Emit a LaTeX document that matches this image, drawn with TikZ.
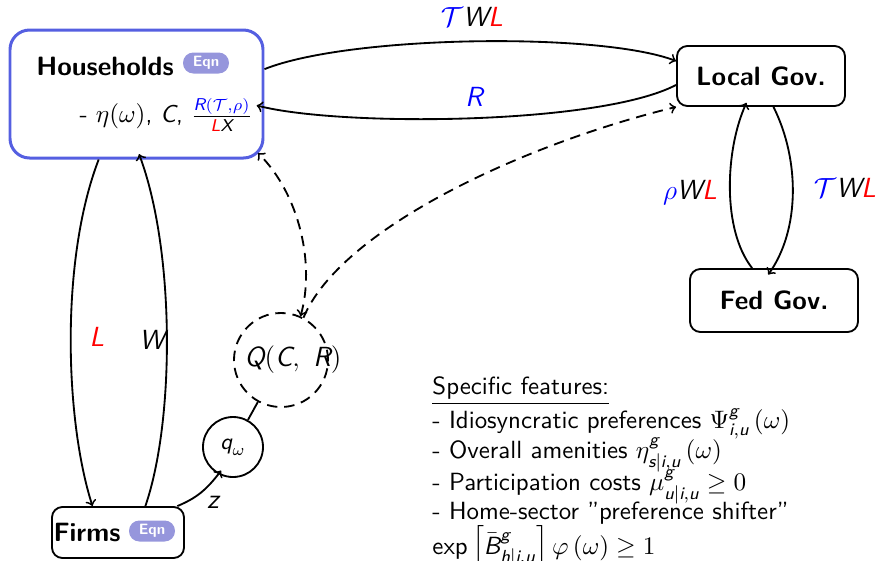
\documentclass[tikz,border=0pt]{standalone}
\usepackage{amsmath}
\usepackage{xcolor}
\renewcommand{\familydefault}{\sfdefault}
\definecolor{hblue}{RGB}{85,95,225}
\definecolor{badgec}{RGB}{150,150,220}
\newcommand{\sv}[1]{\textit{#1}}
\def\px{0.434pt}
\begin{document}
\begin{tikzpicture}[x=0.434pt,y=-0.434pt]
\tikzset{
 box/.style={draw, thick, rounded corners=4.5pt, inner sep=0pt},
 title/.style={font=\fontsize{11.5}{14}\selectfont\bfseries},
 badge/.style={fill=badgec, rounded corners=4.5pt, text=white, font=\fontsize{6.5}{7}\selectfont\bfseries, minimum width=46*\px, minimum height=21*\px, inner sep=0pt},
 lbl/.style={font=\fontsize{12}{14}\selectfont},
 feat/.style={anchor=west, inner sep=0pt, font=\fontsize{10.8}{13}\selectfont},
 flow/.style={thick,->},
 dflow/.style={thick, dash pattern=on 4.5pt off 3pt},
}
\useasboundingbox (0,0) rectangle (879,560);

% nodes
\node[box, draw=hblue, line width=1.3pt, rounded corners=8.5pt, minimum width=253*\px, minimum height=128*\px] (H) at (136.5,94) {};
\node[title] (Ht) at (105,66) {Households};
\node[badge] (Hb) at (206,63) {Eqn};
\node[font=\fontsize{10.6}{13}\selectfont] (Hx) at (166,115) {- $\eta(\omega)$, \sv{C}, $\frac{\textcolor{blue}{\sv{R}(\mathcal{T},\rho)}}{\textcolor{red}{\sv{L}}\sv{X}}$};

\node[box, title, minimum width=168*\px, minimum height=60*\px] (LG) at (761,76) {Local Gov.};
\node[box, title, minimum width=168*\px, minimum height=63*\px] (FG) at (774,300.5) {Fed Gov.};
\node[box, minimum width=132*\px, minimum height=51*\px] (F) at (118,532.5) {};
\node[title] (Ft) at (87,532) {Firms};
\node[badge] (Fb) at (152,531) {Eqn};

\node[circle, draw, thick, minimum size=60*\px, inner sep=0pt] (q) at (233,447) {$\sv{q}_\omega$};
\node[circle, dflow, draw, minimum size=94*\px, inner sep=0pt] (Q) at (281,360) {};
\node[lbl] (Qt) at (293,360) {$\sv{Q}(\sv{C},\ \sv{R})$};

% labels
\node[lbl] (l1) at (472,17) {$\textcolor{blue}{\mathcal{T}}\sv{W}\textcolor{red}{\sv{L}}$};
\node[lbl, text=blue] (l2) at (474,97) {$\sv{R}$};
\node[lbl] (l3) at (690,193) {$\textcolor{blue}{\rho}\sv{W}\textcolor{red}{\sv{L}}$};
\node[lbl] (l4) at (845,188) {$\textcolor{blue}{\mathcal{T}}\sv{W}\textcolor{red}{\sv{L}}$};
\node[lbl, text=red] (l5) at (97,337) {$\sv{L}$};
\node[lbl] (l6) at (152,340) {$\sv{W}$};
\node[lbl] (l7) at (213,502) {$\sv{z}$};

% edges
\draw[flow] (H.11) .. controls (350,35) and (600,32) .. (LG.170);
\draw[flow, shorten >=-3.5pt] (LG.186) .. controls (600,125) and (340,127) .. (H.-6);
\draw[flow] (H.-120) .. controls (60,260) and (65,420) .. (F.134);
\draw[flow, shorten >=-2.5pt] (F.44) .. controls (175,420) and (175,250) .. (H.-86);
\draw[flow, shorten >=-2pt] (F.24) to[bend right=15] (q);
\draw[thick] (q) -- (Q);
\draw[dflow, <->, shorten >=-4pt] (Q.66) .. controls (315,265) and (300,195) .. (H.south east);
\draw[dflow, ->] (Q.62) .. controls (340,230) and (520,145) .. (LG.south west);
\draw[flow, shorten >=-3.5pt] (LG.-68) .. controls (800,160) and (800,230) .. (FG.92);
\draw[flow, shorten >=-2pt] (FG.124) .. controls (722,230) and (725,150) .. (LG.-118);

% features
\node[feat] (f1) at (432,391) {\underline{Specific features:}};
\node[feat] (f2) at (432,424) {- Idiosyncratic preferences $\Psi^{\sv{g}}_{\sv{i},\sv{u}}\,(\omega)$};
\node[feat] (f3) at (432,455) {- Overall amenities $\eta^{\sv{g}}_{\sv{s}|\sv{i},\sv{u}}\,(\omega)$};
\node[feat] (f4) at (432,487) {- Participation costs $\mu^{\sv{g}}_{\sv{u}|\sv{i},\sv{u}}\geq 0$};
\node[feat] (f5) at (432,513) {- Home-sector "preference shifter"};
\node[feat] (f6) at (432,548) {$\text{exp}\left[\bar{\sv{B}}^{\sv{g}}_{\sv{h}|\sv{i},\sv{u}}\right]\varphi\,(\omega)\geq 1$};
\end{tikzpicture}
\end{document}
